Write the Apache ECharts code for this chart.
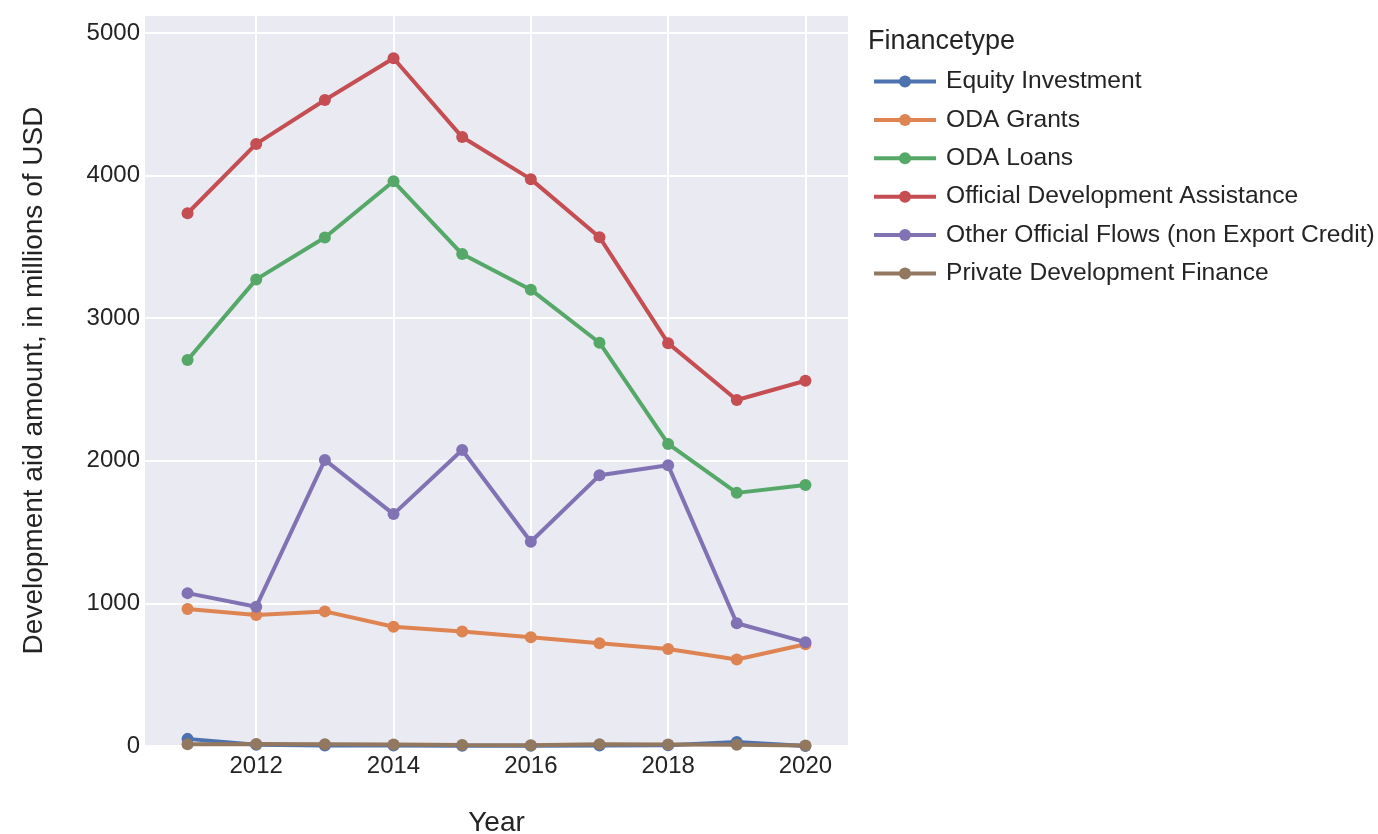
<!DOCTYPE html>
<html>
<head>
<meta charset="utf-8">
<script src="https://cdn.jsdelivr.net/npm/echarts@6/dist/echarts.min.js"></script>
<style>html,body{margin:0;padding:0;background:#fff;}#chart{width:1378px;height:834px;}</style>
</head>
<body>
<div id="chart"></div>
<script>
const years = [2011, 2012, 2013, 2014, 2015, 2016, 2017, 2018, 2019, 2020];
const xTickLabels = [2012, 2014, 2016, 2018, 2020];
const equityInvestment = [50, 8, 3, 3, 2, 2, 3, 5, 28, 0];
const odaGrants = [960, 919, 944, 836, 803, 763, 721, 680, 607, 714];
const odaLoans = [2707, 3272, 3566, 3960, 3450, 3200, 2828, 2118, 1775, 1830];
const officialDevelopmentAssistance = [3736, 4222, 4530, 4823, 4270, 3975, 3568, 2825, 2426, 2561];
const otherOfficialFlows = [1072, 977, 2006, 1626, 2076, 1432, 1898, 1968, 861, 728];
const privateDevelopmentFinance = [12, 14, 13, 10, 7, 6, 13, 11, 9, 4];
const seriesNames = ['Equity Investment', 'ODA Grants', 'ODA Loans', 'Official Development Assistance', 'Other Official Flows (non Export Credit)', 'Private Development Finance'];
const seriesValues = [equityInvestment, odaGrants, odaLoans, officialDevelopmentAssistance, otherOfficialFlows, privateDevelopmentFinance];
const colors = ['rgb(76,114,176)', 'rgb(221,132,82)', 'rgb(85,168,104)', 'rgb(196,78,82)', 'rgb(129,114,179)', 'rgb(147,120,96)'];

const FONT = '"Liberation Sans", Arial, sans-serif';
const TXT = 'rgb(36,36,36)';

const chart = echarts.init(document.getElementById('chart'));
chart.setOption({
  animation: false,
  color: colors,
  title: {
    text: 'Financetype',
    left: 868, top: 28, padding: 0,
    textStyle: { fontFamily: FONT, fontSize: 27, fontWeight: 'normal', color: TXT }
  },
  legend: {
    orient: 'vertical',
    left: 872, top: 69, padding: 0,
    itemWidth: 62, itemHeight: 15, itemGap: 13.4,
    lineStyle: { width: 4 },
    textStyle: { fontFamily: FONT, fontSize: 24.6, color: TXT, padding: [0, 0, 0, 5], lineHeight: 24 },
    data: seriesNames
  },
  grid: {
    left: 145, right: 530, top: 15, bottom: 88,
    outerBoundsMode: 'none',
    containLabel: false,
    show: true, backgroundColor: 'rgb(234,234,242)', borderWidth: 0
  },
  xAxis: {
    type: 'value',
    min: 2010.38, max: 2020.62,
    name: 'Year', nameLocation: 'middle', nameGap: 63,
    nameTextStyle: { fontFamily: FONT, fontSize: 28, color: TXT },
    axisLine: { show: false },
    axisTick: { show: false, customValues: xTickLabels },
    axisLabel: { customValues: xTickLabels, fontFamily: FONT, fontSize: 24, color: TXT, margin: 8, formatter: v => String(v) },
    splitLine: { show: true, lineStyle: { color: '#fff', width: 2 } }
  },
  yAxis: {
    type: 'value',
    min: 0, max: 5126, interval: 1000,
    name: 'Development aid amount, in millions of USD', nameLocation: 'middle', nameGap: 97,
    nameTextStyle: { fontFamily: FONT, fontSize: 28, color: TXT },
    axisLine: { show: false },
    axisTick: { show: false },
    axisLabel: { fontFamily: FONT, fontSize: 24, color: TXT, margin: 5, showMaxLabel: false,
      formatter: v => (v % 1000 === 0 ? String(v) : '') },
    splitLine: { show: true, lineStyle: { color: '#fff', width: 2 } }
  },
  series: seriesNames.map((name, i) => ({
    name: name,
    type: 'line',
    data: years.map((y, j) => [y, seriesValues[i][j]]),
    symbol: 'circle',
    symbolSize: 12,
    lineStyle: { width: 4, color: colors[i] },
    itemStyle: { color: colors[i] },
    emphasis: { disabled: true },
    clip: false
  }))
});
</script>
</body>
</html>
